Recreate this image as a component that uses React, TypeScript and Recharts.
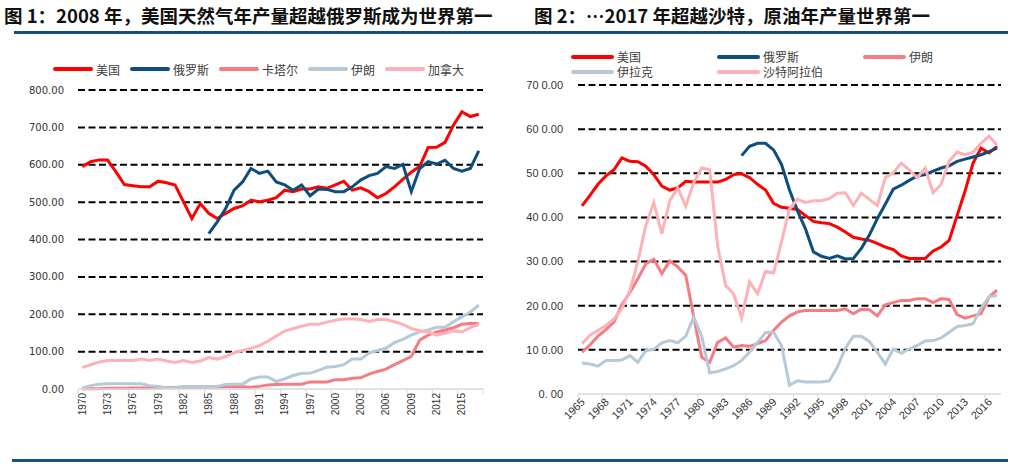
import React from 'react';
import { LineChart, Line, XAxis, YAxis, CartesianGrid } from 'recharts';

// ---------- Figure 1: natural gas ----------
const gasYears = ['1970','1971','1972','1973','1974','1975','1976','1977','1978','1979','1980','1981','1982','1983','1984','1985','1986','1987','1988','1989','1990','1991','1992','1993','1994','1995','1996','1997','1998','1999','2000','2001','2002','2003','2004','2005','2006','2007','2008','2009','2010','2011','2012','2013','2014','2015','2016','2017'];
const gasUS = [595,608,613,613,581,547,544,541,541,556, 552,546,501,456,496,470,456,470,483,490, 505,501,505,512,532,528,535,535,541,537, 546,556,532,538,528,512,523,541,561,580, 596,646,647,660,706,742,729,735];
const gasRussia = [null,null,null,null,null,null,null,null,null,null, null,null,null,null,null,416,447,483,532,554, 590,577,583,554,546,532,546,517,535,534, 528,528,541,559,571,577,595,590,601,528, 590,608,602,612,590,583,590,637];
const gasQatar = [1,1,1,2,2,2,3,3,3,4, 4,4,4,4,4,5,5,6,6,6, 5,7,11,12,13,13,13,19,19,19, 25,25,29,30,40,47,53,65,76,87, 131,144,153,158,164,173,175,175];
const gasIran = [3,9,13,14,14,14,14,14,9,7, 3,4,7,7,7,7,7,12,13,13, 27,32,32,20,27,36,42,42,50,58, 60,65,80,80,96,103,109,124,133,144, 153,158,165,165,180,193,206,224];
const gasCanada = [57,65,72,76,76,76,76,80,76,80, 75,71,76,71,75,84,80,87,97,103, 109,116,128,142,155,162,168,173,173,179, 184,187,187,186,181,186,186,180,173,162, 156,153,144,149,155,153,164,173];
const gasNames = ['美国','俄罗斯','卡塔尔','伊朗','加拿大'];
const gasYTicks = [0,100,200,300,400,500,600,700,800];
const gasYLabels = ['0.00','100.00','200.00','300.00','400.00','500.00','600.00','700.00','800.00'];

// ---------- Figure 2: crude oil ----------
const oilYears = ['1965','1966','1967','1968','1969','1970','1971','1972','1973','1974','1975','1976','1977','1978','1979','1980','1981','1982','1983','1984','1985','1986','1987','1988','1989','1990','1991','1992','1993','1994','1995','1996','1997','1998','1999','2000','2001','2002','2003','2004','2005','2006','2007','2008','2009','2010','2011','2012','2013','2014','2015','2016','2017'];
const oilUS = [426,450,475,494,508, 535,527,526,516,497, 471,462,467,482,480, 480,480,480,486,497, 499,490,475,462,432, 423,421,418,404,391, 388,386,378,367,355, 351,348,341,333,327, 313,307,307,307,324, 333,348,404,460,523, 557,546,561];
const oilRussia = [null,null,null,null,null, null,null,null,null,null, null,null,null,null,null, null,null,null,null,null, 540,561,568,568,553, 520,462,415,374,322, 312,307,313,306,307, 330,360,397,430,464, 473,484,494,497,505, 512,517,527,532,537, 542,549,557];
const oilIran = [95,111,131,146,163, 202,230,261,295,305, 273,301,288,269,175, 83,72,117,127,106, 110,108,114,121,144, 163,177,186,189,189, 189,189,189,193,182, 192,191,177,202,207, 212,212,216,216,207, 216,214,180,172,177, 182,220,235];
const oilIraq = [70,68,63,76,76, 77,87,72,98,101, 116,121,116,131,174, 131,48,51,57,64, 76,95,117,139,140, 110,20,30,27,27, 27,30,61,104,131, 131,119,95,68,102, 92,102,110,120,121, 127,140,153,155,159, 195,220,223];
const oilSaudi = [114,133,144,155,170, 193,235,300,382,434, 363,438,467,425,479, 512,508,335,246,227, 172,254,227,278,274, 345,419,441,434,438, 438,443,455,456,427, 455,441,427,490,501, 523,508,490,512,456, 475,527,548,542,548, 568,584,564];
const oilNames = ['美国','俄罗斯','伊朗','伊拉克','沙特阿拉伯'];
const oilYTicks = [0,100,200,300,400,500,600,700];
const oilYLabels = ['0. 00','10 0.00','20 0.00','30 0.00','40 0.00','50 0.00','60 0.00','70 0.00'];

const title1 = '图 1：2008 年，美国天然气年产量超越俄罗斯成为世界第一';
const title2 = '图 2：…2017 年超越沙特，原油年产量世界第一';

// ---------- styles ----------
const RED = '#FF0000';
const NAVY = '#0E4E7C';
const SALMON = '#F47C82';
const GREYBLUE = '#B5C9D8';
const PINK = '#FDB2B7';
const gasColors = [RED, NAVY, SALMON, GREYBLUE, PINK];
const oilColors = [RED, NAVY, SALMON, GREYBLUE, PINK];
const RULE = '#17507D';
const CJK = '"Noto Sans CJK SC", "Noto Sans", sans-serif';

const gasData = gasYears.map((y, i) => ({
  year: y, us: gasUS[i], russia: gasRussia[i], qatar: gasQatar[i], iran: gasIran[i], canada: gasCanada[i],
}));
const gasKeys = ['us', 'russia', 'qatar', 'iran', 'canada'];

const oilData = oilYears.map((y, i) => ({
  year: y, us: oilUS[i], russia: oilRussia[i], iran: oilIran[i], iraq: oilIraq[i], saudi: oilSaudi[i],
}));
const oilKeys = ['us', 'russia', 'iran', 'iraq', 'saudi'];

const L_STEP = 405 / 48;
const R_STEP = 423 / 53;

const GasTick = (props: any) => {
  const { x, y, payload } = props;
  const bx = x - L_STEP / 2;
  const isLast = payload.value === gasYears[45];
  return (
    <g>
      <line x1={bx} x2={bx} y1={y} y2={y + 5} stroke="#D9D9D9" strokeWidth={1} />
      {isLast && (
        <line x1={bx + 3 * L_STEP} x2={bx + 3 * L_STEP} y1={y} y2={y + 5} stroke="#D9D9D9" strokeWidth={1} />
      )}
      <text
        x={x}
        y={y + 4}
        transform={`rotate(-90 ${x} ${y + 4})`}
        textAnchor="end"
        dy="0.35em"
        fontSize={10}
        fontFamily='"Liberation Sans", Arial, sans-serif'
        fill="#333"
      >
        {payload.value}
      </text>
    </g>
  );
};

const OilTick = (props: any) => {
  const { x, y, payload } = props;
  const bx = x - R_STEP / 2;
  return (
    <g>
      <line x1={bx} x2={bx} y1={y} y2={y + 4} stroke="#D9D9D9" strokeWidth={1} />
      <text
        x={x + 1}
        y={y + 6}
        transform={`rotate(-45 ${x + 1} ${y + 6})`}
        textAnchor="end"
        dy="0.35em"
        fontSize={11}
        fontFamily='"Liberation Sans", Arial, sans-serif'
        fill="#333"
      >
        {payload.value}
      </text>
    </g>
  );
};

const Swatch = ({ color, width }: { color: string; width: number }) => (
  <span
    style={{
      display: 'inline-block',
      width,
      height: 4,
      borderRadius: 2,
      background: color,
      marginRight: 3,
      verticalAlign: 'middle',
    }}
  />
);

export default function App() {
  return (
    <div
      style={{
        position: 'absolute',
        left: 0,
        top: 0,
        width: 1012,
        height: 464,
        background: '#fff',
        overflow: 'hidden',
        fontFamily: CJK,
      }}
    >
      {/* titles */}
      <div
        style={{
          position: 'absolute', left: 4, top: 3, fontSize: 18.5, fontWeight: 700,
          color: '#111', whiteSpace: 'nowrap', lineHeight: '24px',
        }}
      >
        {title1}
      </div>
      <div
        style={{
          position: 'absolute', left: 534, top: 3, fontSize: 18.5, fontWeight: 700,
          color: '#111', whiteSpace: 'nowrap', lineHeight: '24px',
        }}
      >
        {title2}
      </div>
      <div style={{ position: 'absolute', left: 14, top: 31, width: 994, height: 3, background: RULE }} />
      <div style={{ position: 'absolute', left: 12, top: 459, width: 996, height: 3, background: RULE }} />

      {/* legend 1 */}
      <div
        style={{
          position: 'absolute', left: 53, top: 61, height: 16, display: 'flex', alignItems: 'center',
          fontSize: 12, color: '#404040', whiteSpace: 'nowrap',
        }}
      >
        {gasNames.map((n, i) => (
          <span key={n} style={{ display: 'inline-flex', alignItems: 'center', marginRight: 10 }}>
            <Swatch color={gasColors[i]} width={40} />
            <span>{n}</span>
          </span>
        ))}
      </div>

      {/* legend 2 */}
      <div
        style={{
          position: 'absolute', left: 571, top: 49, width: 438, display: 'grid',
          gridTemplateColumns: '146px 146px 146px', gridAutoRows: '15px',
          fontSize: 12, color: '#404040', whiteSpace: 'nowrap',
        }}
      >
        {oilNames.map((n, i) => (
          <span key={n} style={{ display: 'inline-flex', alignItems: 'center' }}>
            <Swatch color={oilColors[i]} width={43} />
            <span>{n}</span>
          </span>
        ))}
      </div>

      {/* chart 1 */}
      <div style={{ position: 'absolute', left: 0, top: 0 }}>
        <LineChart width={506} height={464} data={gasData} margin={{ top: 90, right: 23, bottom: 0, left: 0 }}>
          <CartesianGrid
            vertical={false}
            horizontalValues={gasYTicks.slice(1)}
            stroke="#000"
            strokeWidth={2}
            strokeDasharray="7 3.5"
          />
          <XAxis
            dataKey="year"
            interval={2}
            height={75}
            padding={{ left: L_STEP / 2, right: L_STEP / 2 }}
            axisLine={{ stroke: '#D9D9D9', strokeWidth: 1.5 }}
            tickLine={false}
            tickSize={0}
            tickMargin={0}
            tick={<GasTick />}
          />
          <YAxis
            domain={[0, 800]}
            ticks={gasYTicks}
            interval={0}
            width={78}
            axisLine={false}
            tickLine={false}
            tickSize={0}
            tickMargin={14}
            tickFormatter={(v: number) => gasYLabels[gasYTicks.indexOf(v)]}
            tick={{ fontSize: 10, fill: '#333', fontFamily: '"DejaVu Sans", sans-serif' }}
          />
          {gasKeys.map((k, i) => (
            <Line
              key={k}
              dataKey={k}
              name={gasNames[i]}
              stroke={gasColors[i]}
              strokeWidth={3}
              dot={false}
              activeDot={false}
              type="linear"
              isAnimationActive={false}
            />
          ))}
        </LineChart>
      </div>

      {/* chart 2 */}
      <div style={{ position: 'absolute', left: 506, top: 0 }}>
        <LineChart width={506} height={464} data={oilData} margin={{ top: 85, right: 11, bottom: 0, left: 0 }}>
          <CartesianGrid
            vertical={false}
            horizontalValues={oilYTicks.slice(1)}
            stroke="#000"
            strokeWidth={2}
            strokeDasharray="7 3.5"
          />
          <XAxis
            dataKey="year"
            interval={2}
            height={70}
            padding={{ left: R_STEP / 2, right: R_STEP / 2 }}
            axisLine={{ stroke: '#D9D9D9', strokeWidth: 1.5 }}
            tickLine={false}
            tickSize={0}
            tickMargin={0}
            tick={<OilTick />}
          />
          <YAxis
            domain={[0, 700]}
            ticks={oilYTicks}
            interval={0}
            width={72}
            axisLine={false}
            tickLine={false}
            tickSize={0}
            tickMargin={15}
            tickFormatter={(v: number) => oilYLabels[oilYTicks.indexOf(v)]}
            tick={{ fontSize: 11, fill: '#333', fontFamily: '"Liberation Sans", Arial, sans-serif' }}
          />
          {oilKeys.map((k, i) => (
            <Line
              key={k}
              dataKey={k}
              name={oilNames[i]}
              stroke={oilColors[i]}
              strokeWidth={3}
              dot={false}
              activeDot={false}
              type="linear"
              isAnimationActive={false}
            />
          ))}
        </LineChart>
      </div>
    </div>
  );
}
